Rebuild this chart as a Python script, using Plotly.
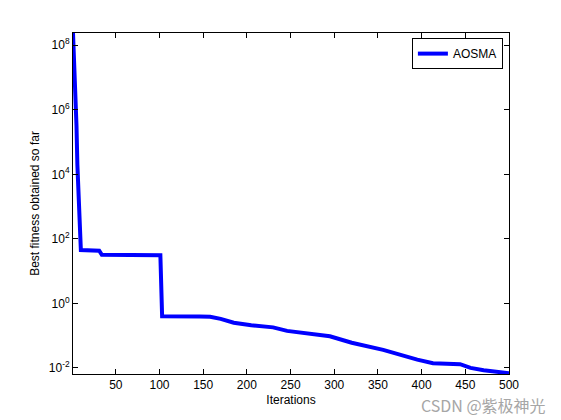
import plotly.graph_objects as go

# Convergence curve breakpoints
iterations = [1, 3, 4, 5, 6, 8, 10, 31, 34, 101, 103, 146, 158, 170, 185, 205,
              230, 246, 280, 295, 320, 356, 395, 413, 444, 456, 471, 494, 500]
best_fitness = [2.4e8, 1.6e7, 2.0e6, 3.2e5, 2.0e4, 500, 45, 43, 32, 31, 0.40,
                0.39, 0.385, 0.33, 0.25, 0.21, 0.18, 0.14, 0.11, 0.095, 0.06,
                0.036, 0.018, 0.014, 0.013, 0.010, 0.0085, 0.0074, 0.0068]

x_ticks = [50, 100, 150, 200, 250, 300, 350, 400, 450, 500]
y_exponents = [-2, 0, 2, 4, 6, 8]
y_tickvals = [10.0 ** e for e in y_exponents]
y_ticktext = [f"10<sup>{e}</sup>" for e in y_exponents]

FONT = "Liberation Sans, Arial, sans-serif"

fig = go.Figure()
fig.add_trace(go.Scatter(
    x=iterations, y=best_fitness, mode="lines", name="AOSMA",
    line=dict(color="#0000ff", width=4),
))

fig.update_layout(
    width=553, height=412,
    margin=dict(l=65, r=52, t=25, b=46),
    paper_bgcolor="white", plot_bgcolor="white",
    font=dict(family=FONT, size=12, color="black"),
    showlegend=True,
    legend=dict(
        x=0.986, y=0.985, xanchor="right", yanchor="top",
        bgcolor="white", bordercolor="black", borderwidth=1,
        font=dict(family=FONT, size=12, color="black"),
    ),
    annotations=[dict(
        text="CSDN @紫极神光", xref="paper", yref="paper",
        x=1.087, y=-0.092, xanchor="right", yanchor="middle",
        showarrow=False, borderpad=0,
        font=dict(family="Noto Sans CJK SC, sans-serif", size=16, color="#a6a6a6"),
    )],
)

fig.update_xaxes(
    range=[1, 500], tickvals=x_ticks, ticks="inside", ticklen=5,
    showline=True, linecolor="black", linewidth=1, mirror="ticks",
    tickcolor="black", showgrid=False, zeroline=False,
    title=dict(text="Iterations", standoff=4,
               font=dict(family=FONT, size=12)),
)
fig.update_yaxes(
    type="log", range=[-2.19, 8.38], tickvals=y_tickvals, ticktext=y_ticktext,
    ticks="inside", ticklen=5,
    showline=True, linecolor="black", linewidth=1, mirror="ticks",
    tickcolor="black", showgrid=False, zeroline=False,
    title=dict(text="Best fitness obtained so far", standoff=6,
               font=dict(family=FONT, size=12)),
)

fig.write_html("out.html")
